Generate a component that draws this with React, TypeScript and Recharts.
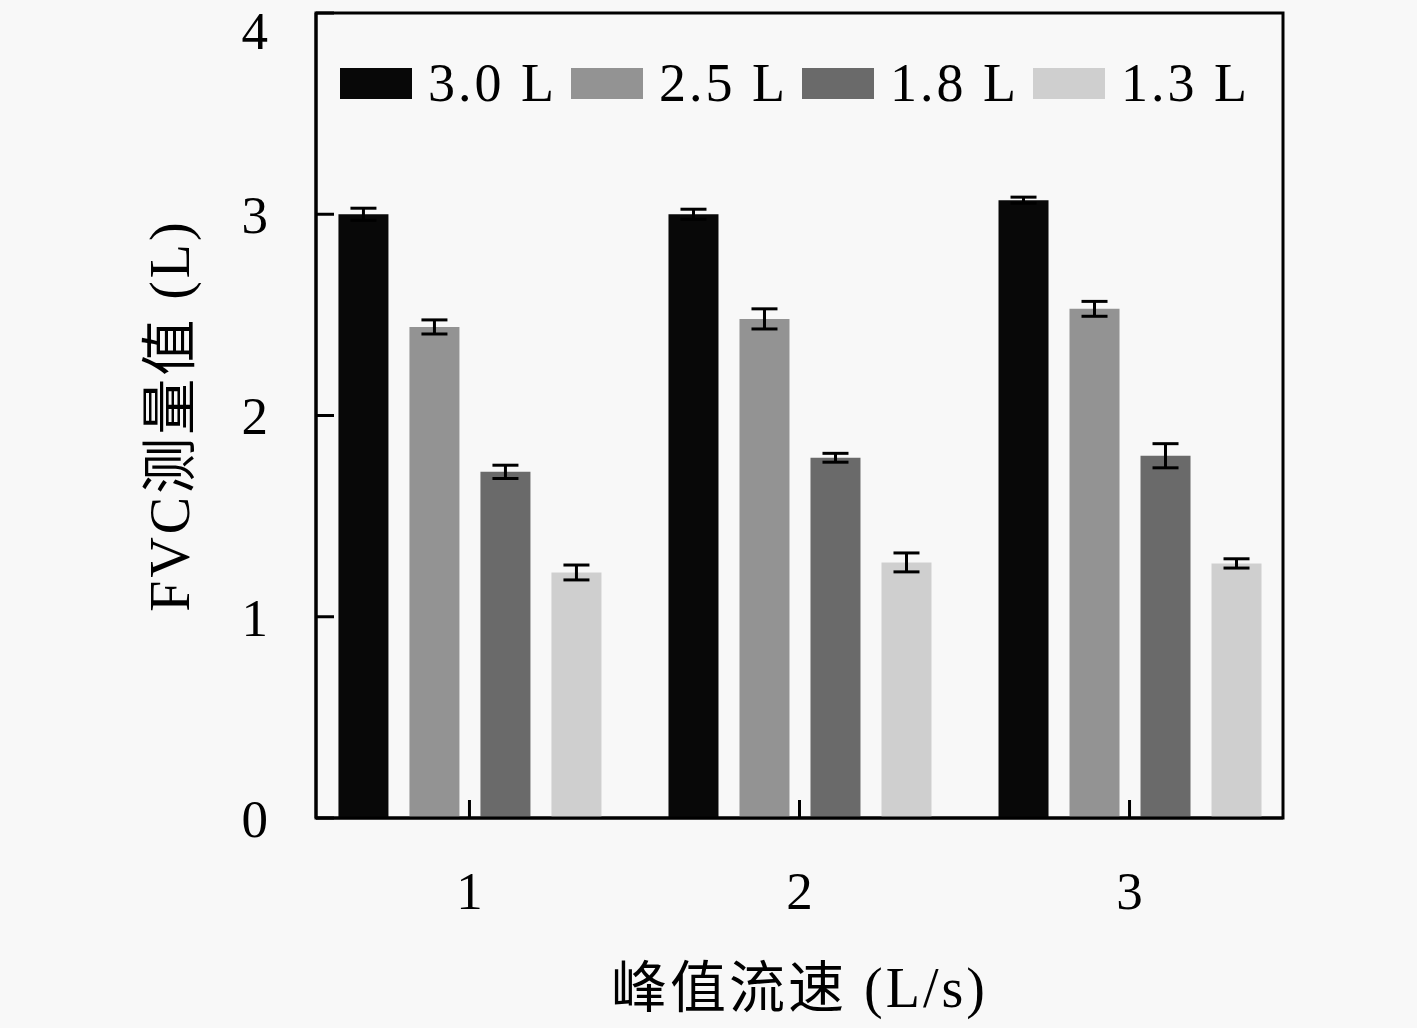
import React from 'react';
import { BarChart, Bar, XAxis, YAxis, ErrorBar, Legend, ReferenceArea } from 'recharts';

const flowRates = [1, 2, 3];
const seriesNames = ['3.0 L', '2.5 L', '1.8 L', '1.3 L'];
const fvc30 = [3.0, 3.0, 3.07];
const fvc25 = [2.44, 2.48, 2.53];
const fvc18 = [1.72, 1.79, 1.8];
const fvc13 = [1.22, 1.27, 1.265];
const err30 = [0.03, 0.025, 0.015];
const err25 = [0.035, 0.05, 0.037];
const err18 = [0.033, 0.022, 0.06];
const err13 = [0.037, 0.047, 0.023];
const yTicks = [0, 1, 2, 3, 4];
const xTicks = [1, 2, 3];
const xDomain = [0.535, 3.465];
const yDomain = [0, 4];
const colors = ['#080808', '#939393', '#6a6a6a', '#cfcfcf'];

const data = flowRates.map((x, i) => ({
  x,
  v30: fvc30[i],
  v25: fvc25[i],
  v18: fvc18[i],
  v13: fvc13[i],
  e30: err30[i],
  e25: err25[i],
  e18: err18[i],
  e13: err13[i],
}));

const serif = "'Liberation Serif', 'Noto Sans CJK SC', serif";
const tickStyle = { fill: '#000', fontSize: 53, fontFamily: serif };

const renderLegend = () => (
  <div
    style={{
      display: 'flex',
      alignItems: 'center',
      fontFamily: serif,
      fontSize: 54,
      lineHeight: '54px',
      letterSpacing: 3,
      color: '#000',
      whiteSpace: 'nowrap',
    }}
  >
    {seriesNames.map((n, i) => (
      <div key={n} style={{ display: 'flex', alignItems: 'center', marginRight: 14 }}>
        <span style={{ display: 'inline-block', width: 72, height: 31, background: colors[i], marginRight: 16 }} />
        <span>{n}</span>
      </div>
    ))}
  </div>
);

const YLabel = (props: any) => {
  const vb = props.viewBox || {};
  const cx = 189;
  const cy = vb.y + vb.height / 2;
  return (
    <text
      x={cx}
      y={cy}
      textAnchor="middle"
      transform={`rotate(-90, ${cx}, ${cy})`}
      style={{ fontFamily: serif, fontSize: 56, letterSpacing: 3 }}
      fill="#000"
    >
      FVC测量值 (L)
    </text>
  );
};

const XLabel = (props: any) => {
  const vb = props.viewBox || {};
  const cx = vb.x + vb.width / 2;
  return (
    <text
      x={cx}
      y={1007}
      textAnchor="middle"
      style={{ fontFamily: serif, fontSize: 56, letterSpacing: 3 }}
      fill="#000"
    >
      峰值流速 (L/s)
    </text>
  );
};

export default function App() {
  return (
    <div style={{ position: 'absolute', left: 0, top: 0, width: 1417, height: 1028, background: '#f8f8f8' }}>
      <BarChart
        width={1417}
        height={1028}
        data={data}
        margin={{ top: 13, right: 134, bottom: 110, left: 0 }}
        barGap={21}
        barSize={50}
      >
        <XAxis
          dataKey="x"
          type="number"
          domain={xDomain}
          ticks={xTicks}
          allowDataOverflow
          height={100}
          tickSize={-18}
          tickMargin={71}
          axisLine={{ stroke: '#000', strokeWidth: 3 }}
          tickLine={{ stroke: '#000', strokeWidth: 3 }}
          tick={tickStyle}
          label={<XLabel />}
        />
        <YAxis
          type="number"
          domain={yDomain}
          ticks={yTicks}
          width={316}
          tickSize={-18}
          tickMargin={66}
          axisLine={{ stroke: '#000', strokeWidth: 3 }}
          tickLine={{ stroke: '#000', strokeWidth: 3 }}
          tick={tickStyle}
          label={<YLabel />}
        />
        <ReferenceArea
          x1={xDomain[0]}
          x2={xDomain[1]}
          y1={yDomain[0]}
          y2={yDomain[1]}
          fill="none"
          fillOpacity={0}
          stroke="#000"
          strokeWidth={3}
          strokeOpacity={1}
          ifOverflow="visible"
        />
        <Legend
          layout="horizontal"
          verticalAlign="middle"
          align="center"
          wrapperStyle={{ top: 56, left: 340, width: 'auto', height: 54 }}
          content={renderLegend}
        />
        <Bar dataKey="v30" name={seriesNames[0]} fill={colors[0]} isAnimationActive={false}>
          <ErrorBar dataKey="e30" width={13} strokeWidth={3} stroke="#000" direction="y" isAnimationActive={false} />
        </Bar>
        <Bar dataKey="v25" name={seriesNames[1]} fill={colors[1]} isAnimationActive={false}>
          <ErrorBar dataKey="e25" width={13} strokeWidth={3} stroke="#000" direction="y" isAnimationActive={false} />
        </Bar>
        <Bar dataKey="v18" name={seriesNames[2]} fill={colors[2]} isAnimationActive={false}>
          <ErrorBar dataKey="e18" width={13} strokeWidth={3} stroke="#000" direction="y" isAnimationActive={false} />
        </Bar>
        <Bar dataKey="v13" name={seriesNames[3]} fill={colors[3]} isAnimationActive={false}>
          <ErrorBar dataKey="e13" width={13} strokeWidth={3} stroke="#000" direction="y" isAnimationActive={false} />
        </Bar>
      </BarChart>
    </div>
  );
}
